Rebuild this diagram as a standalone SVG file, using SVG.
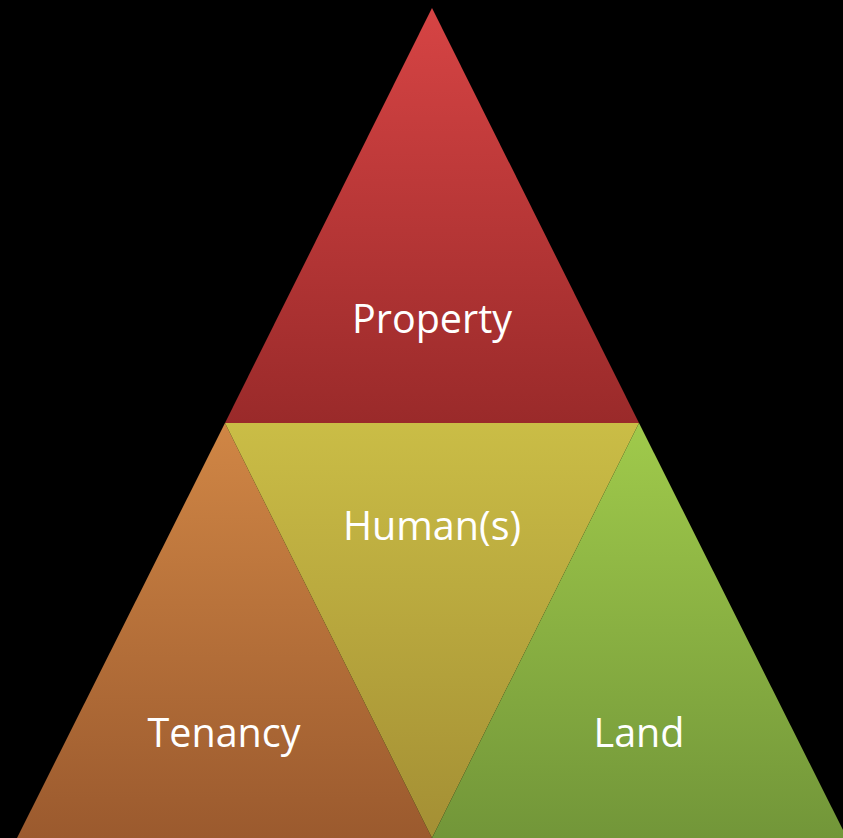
<svg xmlns="http://www.w3.org/2000/svg" width="843" height="838" viewBox="0 0 843 838">
<style>
.lbl{font-family:"Open Sans","Noto Sans",sans-serif;font-size:39.5px;fill:#ffffff;text-anchor:middle}
</style>
<defs>
<linearGradient id="gP" x1="0" y1="0" x2="0" y2="1"><stop offset="0" stop-color="#D64444"/><stop offset="1" stop-color="#9A2A2A"/></linearGradient>
<linearGradient id="gH" x1="0" y1="0" x2="0" y2="1"><stop offset="0" stop-color="#CABD46"/><stop offset="1" stop-color="#A48F34"/></linearGradient>
<linearGradient id="gT" x1="0" y1="0" x2="0" y2="1"><stop offset="0" stop-color="#D08645"/><stop offset="1" stop-color="#9B5A2E"/></linearGradient>
<linearGradient id="gL" x1="0" y1="0" x2="0" y2="1"><stop offset="0" stop-color="#A0CA4B"/><stop offset="1" stop-color="#729639"/></linearGradient>
</defs>
<rect width="843" height="838" fill="#000000"/>
<g id="property"><polygon points="432,8 225,423 639,423" fill="url(#gP)"/><text class="lbl" x="432" y="333">Property</text></g>
<g id="tenancy"><polygon points="225,423 17,838 432,838" fill="url(#gT)"/><text class="lbl" x="224" y="747">Tenancy</text></g>
<g id="humans"><polygon points="225,423 639,423 432,838" fill="url(#gH)"/><text class="lbl" x="432" y="540">Human(s)</text></g>
<g id="land"><polygon points="639,423 432,838 847,838" fill="url(#gL)"/><text class="lbl" x="639" y="747">Land</text></g>
<g id="connectors"/>
</svg>
